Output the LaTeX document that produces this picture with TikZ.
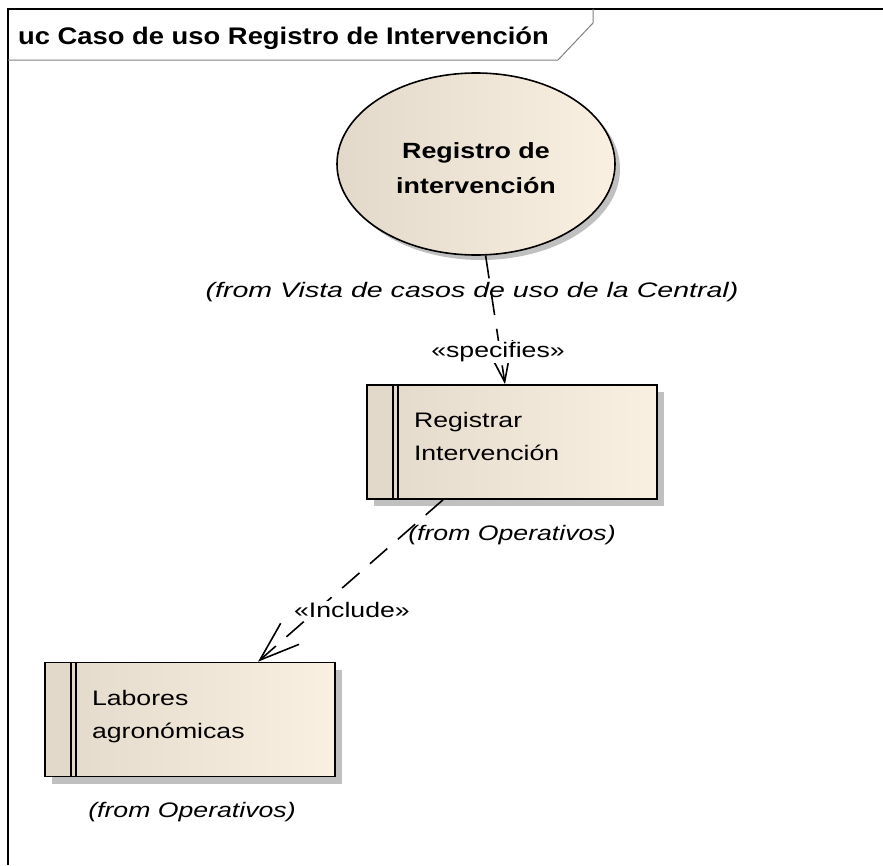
\documentclass[tikz,border=0pt]{standalone}
\usepackage{fontspec}
\setmainfont{Liberation Sans}[FakeStretch=1.27]
\newfontfamily\ucnamefont{Liberation Sans}[FakeStretch=1.22]
\newfontfamily\uctitlefont{Liberation Sans}[FakeStretch=1.14]
\newfontfamily\ucvistafont{Liberation Sans}[FakeStretch=1.36]
\usetikzlibrary{shapes.geometric,shadows,positioning,arrows.meta}

\definecolor{ucleft}{HTML}{E3D9CA}
\definecolor{ucright}{HTML}{FAF0E2}
\definecolor{ucshadow}{HTML}{C0C0C0}
\definecolor{tabgray}{HTML}{808080}

\tikzset{
	usecase/.style={ellipse, draw, line width=1.6pt, left color=ucleft, right color=ucright,
		minimum width=278pt, minimum height=182pt, align=center, inner sep=0pt,
		text height=58pt, text depth=0pt,
		font=\ucnamefont\bfseries\fontsize{22}{35}\selectfont,
		drop shadow={shadow xshift=5pt, shadow yshift=-5pt, fill=ucshadow, opacity=1}},
	ucbox/.style={rectangle, draw, line width=1.6pt, left color=ucleft, right color=ucright,
		minimum width=290pt, minimum height=114pt, text width=196pt, inner xsep=47pt,
		align=left, text height=16pt, text depth=45pt,
		font=\fontsize{21}{33}\selectfont,
		drop shadow={shadow xshift=7pt, shadow yshift=-7pt, fill=ucshadow, opacity=1},
		path picture={
			\fill[ucleft] (path picture bounding box.north west) rectangle ([xshift=31pt]path picture bounding box.south west);
			\draw[line width=1.6pt] ([xshift=26pt]path picture bounding box.north west) -- ([xshift=26pt]path picture bounding box.south west);
			\draw[line width=1.6pt] ([xshift=31pt]path picture bounding box.north west) -- ([xshift=31pt]path picture bounding box.south west);
		}},
	fromnote/.style={font=\itshape\fontsize{21}{25}\selectfont, inner sep=1pt},
	stereo/.style={font=\fontsize{21}{25}\selectfont, fill=white, inner sep=1pt},
	relation/.style={line width=1.6pt, dash pattern=on 23pt off 14pt,
		-{Straight Barb[length=40pt,width=28pt]}},
	tabline/.style={line width=1pt, tabgray}
}

\begin{document}
\begin{tikzpicture}[x=1pt, y=-1pt]
	\useasboundingbox (0,0) rectangle (883,865);
	
	%frame and name tab
	\draw[line width=1.6pt] (8,865) -- (8,9) -- (883,9);
	\draw[tabline] (8,60) -- (558,60) -- (593,23) -- (593,9);
	\node[anchor=base west, inner sep=0pt, font=\uctitlefont\bfseries\fontsize{24}{28}\selectfont] (title) at (18,44) {uc Caso de uso Registro de Intervención};
	
	%use cases
	\node[usecase] (regint) at (476,164) {Registro de\\intervención};
	\node[ucbox] (registrar) at (512,442) {Registrar\\Intervención};
	\node[ucbox] (labores) at (190,719.5) {Labores\\agronómicas};
	
	%packages
	\node[fromnote, font=\ucvistafont\itshape\fontsize{21}{25}\selectfont] (fromvista) at (472,292) {(from Vista de casos de uso de la Central)};
	\node[fromnote] (fromreg) at (512,535) {(from Operativos)};
	\node[fromnote] (fromlab) at (192,812) {(from Operativos)};
	
	%relations
	\draw[relation] (regint.-84) -- ([xshift=-7pt]registrar.north);
	\draw[relation] ([xshift=-69pt]registrar.south) -- ([xshift=68pt]labores.north);
	\node[stereo] (specifies) at (498,352) {«specifies»};
	\node[stereo] (include) at (352,610) {«Include»};
\end{tikzpicture}
\end{document}
